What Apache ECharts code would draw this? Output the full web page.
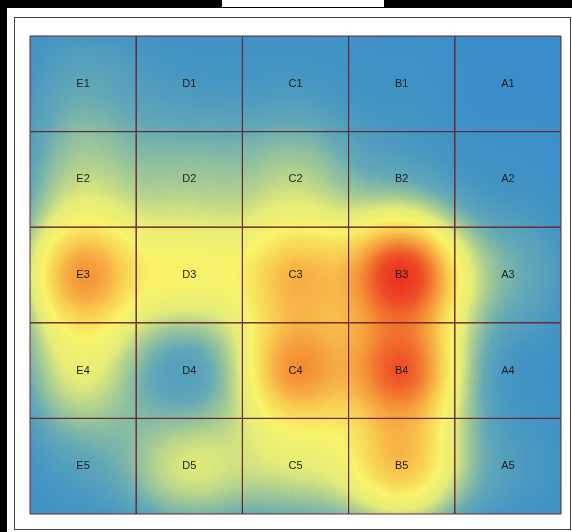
<!DOCTYPE html>
<html>
<head>
<meta charset="utf-8">
<script src="https://cdn.jsdelivr.net/npm/echarts@6/dist/echarts.min.js"></script>
<style>
    body { margin: 0; background: #000; width: 572px; height: 532px; overflow: hidden; }
    #tab { position: absolute; left: 222px; top: 0; width: 162px; height: 7px; background: #fff; }
    #panel { position: absolute; left: 7px; top: 8px; width: 565px; height: 524px; background: #fff; }
    #frame { position: absolute; left: 14px; top: 17px; width: 555px; height: 511px; border: 1px solid #454545; }
    #chart { position: absolute; left: 0; top: 0; width: 572px; height: 532px; }
</style>
</head>
<body>
<div id="tab"></div>
<div id="panel"></div>
<div id="frame"></div>
<div id="chart"></div>
<script>
// 列（左到右）和行（上到下）
var colNames = ['E', 'D', 'C', 'B', 'A'];
var rowNames = ['1', '2', '3', '4', '5'];

// 每行的热度值，顺序同 colNames
var row1 = [20, 10, 10, 5, 0];
var row2 = [35, 30, 35, 15, 5];
var row3 = [80, 55, 70, 100, 25];
var row4 = [45, 5, 80, 90, 5];
var row5 = [15, 45, 40, 70, 15];
var rows = [row1, row2, row3, row4, row5];

// 颜色带：蓝 -> 黄 -> 红
var colors = ['#3a8dc8', '#4797c2', '#62a8b6', '#a0c896', '#e4ec78', '#f8f36a',
    '#f8cc50', '#f49438', '#ee5026', '#e8221c', '#e51a1a'];

// 用格子拼一张"地图"，每个格子是一个区域
var features = [];
var heatData = [];
for (var r = 0; r < rowNames.length; r++) {
    for (var c = 0; c < colNames.length; c++) {
        var yTop = rowNames.length - r;
        features.push({
            type: 'Feature',
            properties: {name: colNames[c] + rowNames[r]},
            geometry: {
                type: 'Polygon',
                coordinates: [[[c, yTop - 1], [c + 1, yTop - 1], [c + 1, yTop], [c, yTop], [c, yTop - 1]]]
            }
        });
        heatData.push([c + 0.5, yTop - 0.5, rows[r][c]]);
    }
}
echarts.registerMap('cells', {type: 'FeatureCollection', features: features});

var myChart = echarts.init(document.getElementById('chart'));
var option = {
    animation: false,
    visualMap: {
        show: false,
        type: 'continuous',
        min: 0,
        max: 100,
        seriesIndex: 0,
        inRange: {color: colors}
    },
    geo: [
        {
            map: 'cells', roam: false, silent: true, aspectScale: 531 / 478,
            left: 30, top: 36, right: 11, bottom: 18,
            z: 0,
            itemStyle: {areaColor: colors[0], borderWidth: 0},
            label: {show: false}
        },
        {
            map: 'cells', roam: false, silent: true, aspectScale: 531 / 478,
            left: 30, top: 36, right: 11, bottom: 18,
            z: 5,
            itemStyle: {areaColor: 'rgba(0,0,0,0)', borderColor: '#6b2533', borderWidth: 1},
            label: {
                show: true,
                color: '#1e1e1e',
                fontSize: 11,
                fontFamily: 'Liberation Sans, Arial, sans-serif'
            }
        }
    ],
    series: [
        {
            type: 'heatmap',
            coordinateSystem: 'geo',
            geoIndex: 0,
            pointSize: 60,
            blurSize: 65,
            minOpacity: 1,
            maxOpacity: 1,
            data: heatData
        }
    ]
};
myChart.setOption(option);
</script>
</body>
</html>
